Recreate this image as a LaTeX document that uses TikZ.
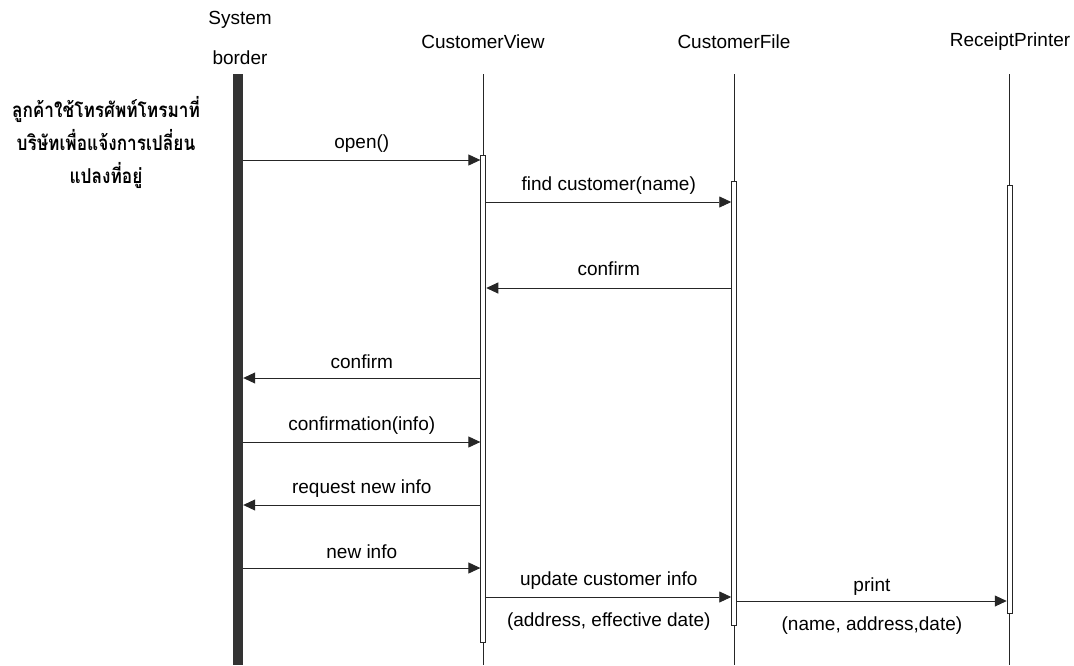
\documentclass[tikz,border=0pt]{standalone}
\usepackage{fontspec}
\setmainfont{Liberation Sans}
\newfontfamily\thaifont[Script=Thai]{Loma}
\usetikzlibrary{arrows.meta}
\begin{document}
\begin{tikzpicture}[x=1pt,y=-1pt,
  every node/.style={font=\fontsize{19}{23}\selectfont, inner sep=0pt},
  lifeline/.style={line width=0.9pt, draw=black!85},
  act/.style={draw=black!85, line width=0.9pt, fill=white, minimum width=5pt},
  msg/.style={line width=0.9pt, draw=black!85, -{Triangle[length=12pt,width=11pt]}},
  above label/.style={midway, yshift=16pt},
  below label/.style={midway, yshift=-25pt}]
\useasboundingbox (0,0) rectangle (1074,665);

% column headings
\node (sys1) at (240,20) {System};
\node (sys2) at (240,58) {border};
\node (hcv) at (483,42) {CustomerView};
\node (hcf) at (734,42) {CustomerFile};
\node (hrp) at (1010,42) {ReceiptPrinter};

% actor note (narrowed, taller Thai lettering)
\node[align=center, xscale=0.84, transform shape,
      font=\thaifont\bfseries\fontsize{20.5}{33}\selectfont] (actor) at (106,142)
  {ลูกค้าใช้โทรศัพท์โทรมาที่\\บริษัทเพื่อแจ้งการเปลี่ยน\\แปลงที่อยู่};

% system border bar
\node[fill=black!80, minimum width=10pt, minimum height=591pt] (bar) at (238,369.5) {};

% lifelines
\coordinate (cvtop) at (483.3,74);  \coordinate (cvbot) at (483.3,665);
\coordinate (cftop) at (734.2,74);  \coordinate (cfbot) at (734.2,665);
\coordinate (rptop) at (1009.7,74); \coordinate (rpbot) at (1009.7,665);
\draw[lifeline] (cvtop) -- (cvbot);
\draw[lifeline] (cftop) -- (cfbot);
\draw[lifeline] (rptop) -- (rpbot);

% activation bars
\node[act, minimum height=487pt] (cvact) at (483.3,398.5) {};
\node[act, minimum height=443.5pt] (cfact) at (734.2,403.25) {};
\node[act, minimum height=428pt] (rpact) at (1009.7,399) {};

% message rows
\coordinate (r1) at (0,160);
\coordinate (r2) at (0,202);
\coordinate (r3) at (0,288);
\coordinate (r4) at (0,378);
\coordinate (r5) at (0,442);
\coordinate (r6) at (0,505);
\coordinate (r7) at (0,568);
\coordinate (r8) at (0,597);
\coordinate (r9) at (0,601);

% messages
\draw[msg] (bar.east |- r1) -- (cvact.west |- r1) node[above label] {open()};
\draw[msg] (cvact.east |- r2) -- (cfact.west |- r2) node[above label] {find customer(name)};
\draw[msg] (cfact.west |- r3) -- (cvact.east |- r3) node[above label, yshift=3pt] {confirm};
\draw[msg] (cvact.west |- r4) -- (bar.east |- r4) node[above label] {confirm};
\draw[msg] (bar.east |- r5) -- (cvact.west |- r5) node[above label] {confirmation(info)};
\draw[msg] (cvact.west |- r6) -- (bar.east |- r6) node[above label] {request new info};
\draw[msg] (bar.east |- r7) -- (cvact.west |- r7) node[above label] {new info};
\draw[msg] (cvact.east |- r8) -- (cfact.west |- r8)
  node[above label] {update customer info}
  node[below label] {(address, effective date)};
\draw[msg] (cfact.east |- r9) -- (rpact.west |- r9)
  node[above label, yshift=-2pt] {print}
  node[below label] {(name, address,date)};
\end{tikzpicture}
\end{document}
